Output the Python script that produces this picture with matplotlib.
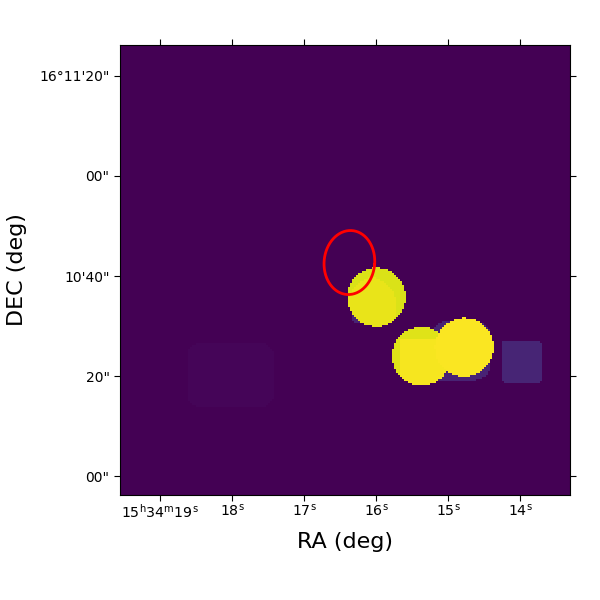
import numpy as np
import matplotlib
matplotlib.use("Agg")
import matplotlib.pyplot as plt

# world coords: RA seconds past 15h34m, DEC arcsec past 16d10m
x_ticks = [19, 18, 17, 16, 15, 14]
x_labels = [r"15$^{\mathrm{h}}$34$^{\mathrm{m}}$19$^{\mathrm{s}}$", r"18$^{\mathrm{s}}$", r"17$^{\mathrm{s}}$",
            r"16$^{\mathrm{s}}$", r"15$^{\mathrm{s}}$", r"14$^{\mathrm{s}}$"]
y_ticks = [0, 20, 40, 60, 80]
y_labels = ['00"', '20"', "10'40\"", '00"', "16°11'20\""]

# rounded boxes: RA left, RA right, DEC bottom, DEC top, corner radius (arcsec), level
box_ra0 = [18.62, 15.31, 15.21, 14.25, 16.33]
box_ra1 = [17.42, 14.60, 14.42, 13.70, 15.80]
box_dec0 = [13.9, 19.0, 19.4, 18.7, 30.7]
box_dec1 = [26.6, 27.0, 30.9, 27.2, 36.0]
box_round = [2.6, 0.5, 2.5, 0.8, 1.0]
box_level = [0.012, 0.10, 0.10, 0.105, 0.10]

# discs: RA centre, DEC centre, radius (arcsec), level
disc_ra = [15.995, 15.37, 14.775]
disc_dec = [35.8, 24.0, 25.8]
disc_r = [5.85, 5.85, 5.85]
disc_level = [0.945, 0.95, 0.985]

# brighter inner parts of discs: RA left, RA right, DEC bottom, DEC top, radius, level
inner_ra0 = [16.40, 15.67, 15.2]
inner_ra1 = [15.71, 14.9, 14.40]
inner_dec0 = [28.0, 17.0, 18.0]
inner_dec1 = [39.9, 27.6, 33.0]
inner_round = [6.0, 0.5, 0.5]
inner_level = [0.965, 0.985, 0.995]

# region ellipse: centre (RA s, DEC "), semi-axes on the sky ("), tilt (deg)
reg_ra, reg_dec, reg_a, reg_b, reg_tilt = 16.37, 42.7, 5.05, 6.4, 5.0

RA_L, RA_R = 19.556, 13.306
DEC_B, DEC_T = -3.7, 86.12
N = 225

fig = plt.figure(figsize=(6, 6), dpi=100)
ax = fig.add_axes([120 / 600, 105 / 600, 450 / 600, 450 / 600])

ra = RA_L + (np.arange(N) + 0.5) / N * (RA_R - RA_L)
dec = DEC_B + (np.arange(N) + 0.5) / N * (DEC_T - DEC_B)
X, Y = np.meshgrid(ra, dec)
SC = 5.01 / 72.0  # RA seconds per arcsec of screen scale
img = np.zeros_like(X)


def rbox(a0, a1, d0, d1, r):
    dx = np.abs((X - (a0 + a1) / 2) / SC) - abs(a1 - a0) / SC / 2 + r
    dy = np.abs(Y - (d0 + d1) / 2) - (d1 - d0) / 2 + r
    return np.hypot(np.maximum(dx, 0), np.maximum(dy, 0)) <= r


for a0, a1, d0, d1, r, lv in zip(box_ra0, box_ra1, box_dec0, box_dec1, box_round, box_level):
    img[rbox(a0, a1, d0, d1, r)] = lv
discs = []
for a, d, r, lv in zip(disc_ra, disc_dec, disc_r, disc_level):
    m = np.hypot((X - a) / SC, Y - d) <= r
    discs.append(m)
    img[m] = lv
for i, (a0, a1, d0, d1, r, lv) in enumerate(zip(inner_ra0, inner_ra1, inner_dec0, inner_dec1, inner_round, inner_level)):
    img[rbox(a0, a1, d0, d1, r) & discs[i]] = lv

ax.imshow(img, origin="lower", cmap="viridis", vmin=0, vmax=1, interpolation="nearest",
          extent=[RA_L, RA_R, DEC_B, DEC_T], aspect="auto")

t = np.linspace(0, 2 * np.pi, 200)
th = np.radians(reg_tilt)
east = reg_a * np.cos(t) * np.cos(th) + reg_b * np.sin(t) * np.sin(th)
north = -reg_a * np.cos(t) * np.sin(th) + reg_b * np.sin(t) * np.cos(th)
ax.plot(reg_ra - east * SC, reg_dec + north, color="red", lw=2)
ax.set_xlim(RA_L, RA_R)
ax.set_ylim(DEC_B, DEC_T)

ax.set_xticks(x_ticks, x_labels, fontsize=10.2)
ax.set_yticks(y_ticks, y_labels, fontsize=10)
ax.tick_params(axis="both", direction="out", length=4, top=True, right=True, width=0.8)
ax.tick_params(axis="x", pad=1.5)
ax.set_xlabel("RA (deg)", fontsize=16, labelpad=8)
ax.set_ylabel("DEC (deg)", fontsize=16, labelpad=9)
fig.savefig("out.png", dpi=100)
